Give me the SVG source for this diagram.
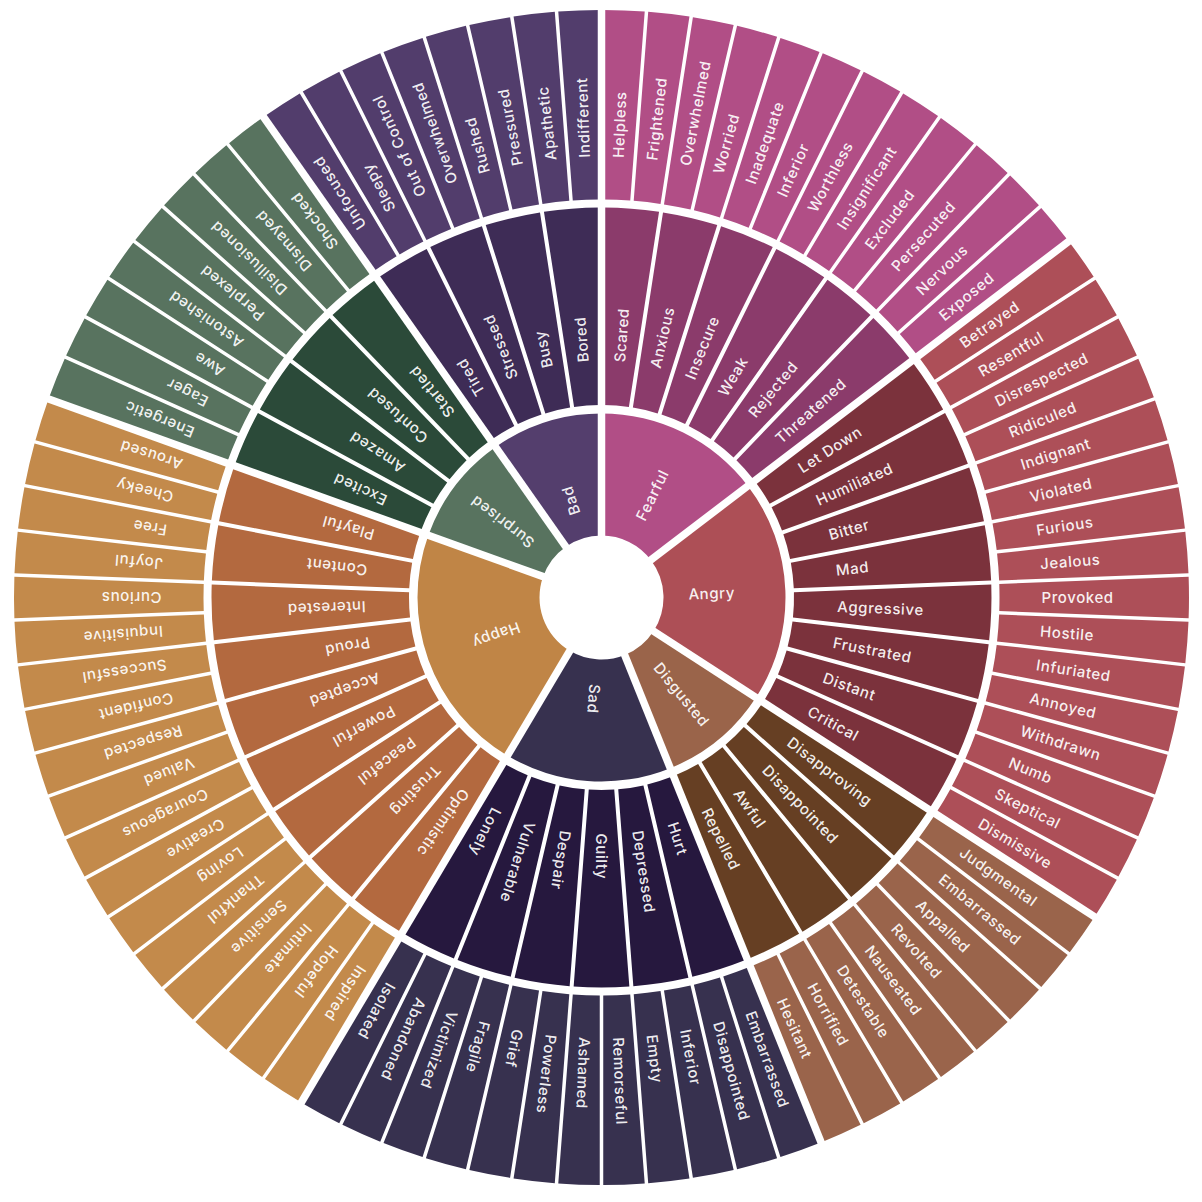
<svg xmlns="http://www.w3.org/2000/svg" xmlns:xlink="http://www.w3.org/1999/xlink" width="1202" height="1202" viewBox="0 0 1202 1202">
<style>
text{font-family:Inter,"Noto Sans","Liberation Sans",sans-serif;font-size:15px;font-weight:500;letter-spacing:.6px;fill:#fff;fill-opacity:.93}
.fi{fill:#b14e86}.fm{fill:#8b3b6b}.fo{fill:#b14e86}
.ai{fill:#ad4f56}.am{fill:#7b323c}.ao{fill:#ad4f58}
.di{fill:#9a644a}.dm{fill:#663f23}.do{fill:#9a644b}
.si{fill:#37314f}.sm{fill:#26183e}.so{fill:#37314f}
.hi{fill:#c08546}.hm{fill:#b3693f}.ho{fill:#c38a4b}
.ui{fill:#58735f}.um{fill:#2b4a39}.uo{fill:#58735f}
.bi{fill:#543e6d}.bm{fill:#3e2c56}.bo{fill:#523d6c}
#separators use{stroke:#fff;stroke-width:7.5}
</style>
<defs>
<path id="leaf" d="M397.77,-13.5L587.13,-20.75A587.5,587.5 0 0 1 587.13,20.75L397.77,13.5A398,398 0 0 0 397.77,-13.5Z"/>
<path id="mid" d="M192.08,-12.74L389,-27.86A390,390 0 0 1 389,27.86L192.08,12.74A192.5,192.5 0 0 0 192.08,-12.74Z"/>
<path id="in12" d="M55.562,-27.511L164.894,-81.644A184,184 0 0 1 164.894,81.644L55.562,27.511A62,62 0 0 0 55.562,-27.511Z"/>
<path id="in16" d="M50.712,-35.67L150.499,-105.859A184,184 0 0 1 150.499,105.859L50.712,35.67A62,62 0 0 0 50.712,-35.67Z"/>
<path id="in8" d="M59.111,-18.707L175.425,-55.517A184,184 0 0 1 175.425,55.517L59.111,18.707A62,62 0 0 0 59.111,-18.707Z"/>
<path id="in18" d="M47.832,-39.447L141.954,-117.069A184,184 0 0 1 141.954,117.069L47.832,39.447A62,62 0 0 0 47.832,-39.447Z"/>
<line id="gsep" x1="50" y1="0" x2="600" y2="0"/>
</defs>
<rect width="1202" height="1202" fill="#fff"/>
<g transform="translate(601.5 597.5)">
<g id="core">
<g id="fearful" transform="rotate(-63.6585)"><use href="#in12" class="fi"/><text x="87" dy=".36em">Fearful</text></g>
<g id="angry" transform="rotate(-2.1951)"><use href="#in16" class="ai"/><text x="87" dy=".36em">Angry</text></g>
<g id="disgusted" transform="rotate(50.4878)"><use href="#in8" class="di"/><text x="87" dy=".36em">Disgusted</text></g>
<g id="sad" transform="rotate(94.3902)"><use href="#in12" class="si"/><text x="87" dy=".36em">Sad</text></g>
<g id="happy" transform="rotate(160.2439)"><use href="#in18" class="hi"/><text x="87" dy=".36em">Happy</text></g>
<g id="surprised" transform="rotate(217.3171)"><use href="#in8" class="ui"/><text x="87" dy=".36em">Surprised</text></g>
<g id="bad" transform="rotate(252.439)"><use href="#in8" class="bi"/><text x="87" dy=".36em">Bad</text></g>
</g>
<g id="middle">
<g id="m-scared" transform="rotate(-85.6098)"><use href="#mid" class="fm"/><text x="236" dy=".36em">Scared</text></g>
<g id="m-anxious" transform="rotate(-76.8293)"><use href="#mid" class="fm"/><text x="236" dy=".36em">Anxious</text></g>
<g id="m-insecure" transform="rotate(-68.0488)"><use href="#mid" class="fm"/><text x="236" dy=".36em">Insecure</text></g>
<g id="m-weak" transform="rotate(-59.2683)"><use href="#mid" class="fm"/><text x="236" dy=".36em">Weak</text></g>
<g id="m-rejected" transform="rotate(-50.4878)"><use href="#mid" class="fm"/><text x="236" dy=".36em">Rejected</text></g>
<g id="m-threatened" transform="rotate(-41.7073)"><use href="#mid" class="fm"/><text x="236" dy=".36em">Threatened</text></g>
<g id="m-letdown" transform="rotate(-32.9268)"><use href="#mid" class="am"/><text x="236" dy=".36em">Let Down</text></g>
<g id="m-humiliated" transform="rotate(-24.1463)"><use href="#mid" class="am"/><text x="236" dy=".36em">Humiliated</text></g>
<g id="m-bitter" transform="rotate(-15.3659)"><use href="#mid" class="am"/><text x="236" dy=".36em">Bitter</text></g>
<g id="m-mad" transform="rotate(-6.5854)"><use href="#mid" class="am"/><text x="236" dy=".36em">Mad</text></g>
<g id="m-aggressive" transform="rotate(2.1951)"><use href="#mid" class="am"/><text x="236" dy=".36em">Aggressive</text></g>
<g id="m-frustrated" transform="rotate(10.9756)"><use href="#mid" class="am"/><text x="236" dy=".36em">Frustrated</text></g>
<g id="m-distant" transform="rotate(19.7561)"><use href="#mid" class="am"/><text x="236" dy=".36em">Distant</text></g>
<g id="m-critical" transform="rotate(28.5366)"><use href="#mid" class="am"/><text x="236" dy=".36em">Critical</text></g>
<g id="m-disapproving" transform="rotate(37.3171)"><use href="#mid" class="dm"/><text x="236" dy=".36em">Disapproving</text></g>
<g id="m-disappointed" transform="rotate(46.0976)"><use href="#mid" class="dm"/><text x="236" dy=".36em">Disappointed</text></g>
<g id="m-awful" transform="rotate(54.878)"><use href="#mid" class="dm"/><text x="236" dy=".36em">Awful</text></g>
<g id="m-repelled" transform="rotate(63.6585)"><use href="#mid" class="dm"/><text x="236" dy=".36em">Repelled</text></g>
<g id="m-hurt" transform="rotate(72.439)"><use href="#mid" class="sm"/><text x="236" dy=".36em">Hurt</text></g>
<g id="m-depressed" transform="rotate(81.2195)"><use href="#mid" class="sm"/><text x="236" dy=".36em">Depressed</text></g>
<g id="m-guilty" transform="rotate(90)"><use href="#mid" class="sm"/><text x="236" dy=".36em">Guilty</text></g>
<g id="m-despair" transform="rotate(98.7805)"><use href="#mid" class="sm"/><text x="236" dy=".36em">Despair</text></g>
<g id="m-vulnerable" transform="rotate(107.561)"><use href="#mid" class="sm"/><text x="236" dy=".36em">Vulnerable</text></g>
<g id="m-lonely" transform="rotate(116.3415)"><use href="#mid" class="sm"/><text x="236" dy=".36em">Lonely</text></g>
<g id="m-optimistic" transform="rotate(125.122)"><use href="#mid" class="hm"/><text x="236" dy=".36em">Optimistic</text></g>
<g id="m-trusting" transform="rotate(133.9024)"><use href="#mid" class="hm"/><text x="236" dy=".36em">Trusting</text></g>
<g id="m-peaceful" transform="rotate(142.6829)"><use href="#mid" class="hm"/><text x="236" dy=".36em">Peaceful</text></g>
<g id="m-powerful" transform="rotate(151.4634)"><use href="#mid" class="hm"/><text x="236" dy=".36em">Powerful</text></g>
<g id="m-accepted" transform="rotate(160.2439)"><use href="#mid" class="hm"/><text x="236" dy=".36em">Accepted</text></g>
<g id="m-proud" transform="rotate(169.0244)"><use href="#mid" class="hm"/><text x="236" dy=".36em">Proud</text></g>
<g id="m-interested" transform="rotate(177.8049)"><use href="#mid" class="hm"/><text x="236" dy=".36em">Interested</text></g>
<g id="m-content" transform="rotate(186.5854)"><use href="#mid" class="hm"/><text x="236" dy=".36em">Content</text></g>
<g id="m-playful" transform="rotate(195.3659)"><use href="#mid" class="hm"/><text x="236" dy=".36em">Playful</text></g>
<g id="m-excited" transform="rotate(204.1463)"><use href="#mid" class="um"/><text x="236" dy=".36em">Excited</text></g>
<g id="m-amazed" transform="rotate(212.9268)"><use href="#mid" class="um"/><text x="236" dy=".36em">Amazed</text></g>
<g id="m-confused" transform="rotate(221.7073)"><use href="#mid" class="um"/><text x="236" dy=".36em">Confused</text></g>
<g id="m-startled" transform="rotate(230.4878)"><use href="#mid" class="um"/><text x="236" dy=".36em">Startled</text></g>
<g id="m-tired" transform="rotate(239.2683)"><use href="#mid" class="bm"/><text x="236" dy=".36em">Tired</text></g>
<g id="m-stressed" transform="rotate(248.0488)"><use href="#mid" class="bm"/><text x="236" dy=".36em">Stressed</text></g>
<g id="m-busy" transform="rotate(256.8293)"><use href="#mid" class="bm"/><text x="236" dy=".36em">Busy</text></g>
<g id="m-bored" transform="rotate(265.6098)"><use href="#mid" class="bm"/><text x="236" dy=".36em">Bored</text></g>
</g>
<g id="outer">
<g id="o-helpless" transform="rotate(-87.8049)"><use href="#leaf" class="fo"/><text x="440" dy=".36em">Helpless</text></g>
<g id="o-frightened" transform="rotate(-83.4146)"><use href="#leaf" class="fo"/><text x="440" dy=".36em">Frightened</text></g>
<g id="o-overwhelmed-f" transform="rotate(-79.0244)"><use href="#leaf" class="fo"/><text x="440" dy=".36em">Overwhelmed</text></g>
<g id="o-worried" transform="rotate(-74.6341)"><use href="#leaf" class="fo"/><text x="440" dy=".36em">Worried</text></g>
<g id="o-inadequate" transform="rotate(-70.2439)"><use href="#leaf" class="fo"/><text x="440" dy=".36em">Inadequate</text></g>
<g id="o-inferior-f" transform="rotate(-65.8537)"><use href="#leaf" class="fo"/><text x="440" dy=".36em">Inferior</text></g>
<g id="o-worthless" transform="rotate(-61.4634)"><use href="#leaf" class="fo"/><text x="440" dy=".36em">Worthless</text></g>
<g id="o-insignificant" transform="rotate(-57.0732)"><use href="#leaf" class="fo"/><text x="440" dy=".36em">Insignificant</text></g>
<g id="o-excluded" transform="rotate(-52.6829)"><use href="#leaf" class="fo"/><text x="440" dy=".36em">Excluded</text></g>
<g id="o-persecuted" transform="rotate(-48.2927)"><use href="#leaf" class="fo"/><text x="440" dy=".36em">Persecuted</text></g>
<g id="o-nervous" transform="rotate(-43.9024)"><use href="#leaf" class="fo"/><text x="440" dy=".36em">Nervous</text></g>
<g id="o-exposed" transform="rotate(-39.5122)"><use href="#leaf" class="fo"/><text x="440" dy=".36em">Exposed</text></g>
<g id="o-betrayed" transform="rotate(-35.122)"><use href="#leaf" class="ao"/><text x="440" dy=".36em">Betrayed</text></g>
<g id="o-resentful" transform="rotate(-30.7317)"><use href="#leaf" class="ao"/><text x="440" dy=".36em">Resentful</text></g>
<g id="o-disrespected" transform="rotate(-26.3415)"><use href="#leaf" class="ao"/><text x="440" dy=".36em">Disrespected</text></g>
<g id="o-ridiculed" transform="rotate(-21.9512)"><use href="#leaf" class="ao"/><text x="440" dy=".36em">Ridiculed</text></g>
<g id="o-indignant" transform="rotate(-17.561)"><use href="#leaf" class="ao"/><text x="440" dy=".36em">Indignant</text></g>
<g id="o-violated" transform="rotate(-13.1707)"><use href="#leaf" class="ao"/><text x="440" dy=".36em">Violated</text></g>
<g id="o-furious" transform="rotate(-8.7805)"><use href="#leaf" class="ao"/><text x="440" dy=".36em">Furious</text></g>
<g id="o-jealous" transform="rotate(-4.3902)"><use href="#leaf" class="ao"/><text x="440" dy=".36em">Jealous</text></g>
<g id="o-provoked" transform="rotate(0)"><use href="#leaf" class="ao"/><text x="440" dy=".36em">Provoked</text></g>
<g id="o-hostile" transform="rotate(4.3902)"><use href="#leaf" class="ao"/><text x="440" dy=".36em">Hostile</text></g>
<g id="o-infuriated" transform="rotate(8.7805)"><use href="#leaf" class="ao"/><text x="440" dy=".36em">Infuriated</text></g>
<g id="o-annoyed" transform="rotate(13.1707)"><use href="#leaf" class="ao"/><text x="440" dy=".36em">Annoyed</text></g>
<g id="o-withdrawn" transform="rotate(17.561)"><use href="#leaf" class="ao"/><text x="440" dy=".36em">Withdrawn</text></g>
<g id="o-numb" transform="rotate(21.9512)"><use href="#leaf" class="ao"/><text x="440" dy=".36em">Numb</text></g>
<g id="o-skeptical" transform="rotate(26.3415)"><use href="#leaf" class="ao"/><text x="440" dy=".36em">Skeptical</text></g>
<g id="o-dismissive" transform="rotate(30.7317)"><use href="#leaf" class="ao"/><text x="440" dy=".36em">Dismissive</text></g>
<g id="o-judgmental" transform="rotate(35.122)"><use href="#leaf" class="do"/><text x="440" dy=".36em">Judgmental</text></g>
<g id="o-embarrassed-d" transform="rotate(39.5122)"><use href="#leaf" class="do"/><text x="440" dy=".36em">Embarrassed</text></g>
<g id="o-appalled" transform="rotate(43.9024)"><use href="#leaf" class="do"/><text x="440" dy=".36em">Appalled</text></g>
<g id="o-revolted" transform="rotate(48.2927)"><use href="#leaf" class="do"/><text x="440" dy=".36em">Revolted</text></g>
<g id="o-nauseated" transform="rotate(52.6829)"><use href="#leaf" class="do"/><text x="440" dy=".36em">Nauseated</text></g>
<g id="o-detestable" transform="rotate(57.0732)"><use href="#leaf" class="do"/><text x="440" dy=".36em">Detestable</text></g>
<g id="o-horrified" transform="rotate(61.4634)"><use href="#leaf" class="do"/><text x="440" dy=".36em">Horrified</text></g>
<g id="o-hesitant" transform="rotate(65.8537)"><use href="#leaf" class="do"/><text x="440" dy=".36em">Hesitant</text></g>
<g id="o-embarrassed-s" transform="rotate(70.2439)"><use href="#leaf" class="so"/><text x="440" dy=".36em">Embarrassed</text></g>
<g id="o-disappointed" transform="rotate(74.6341)"><use href="#leaf" class="so"/><text x="440" dy=".36em">Disappointed</text></g>
<g id="o-inferior-s" transform="rotate(79.0244)"><use href="#leaf" class="so"/><text x="440" dy=".36em">Inferior</text></g>
<g id="o-empty" transform="rotate(83.4146)"><use href="#leaf" class="so"/><text x="440" dy=".36em">Empty</text></g>
<g id="o-remorseful" transform="rotate(87.8049)"><use href="#leaf" class="so"/><text x="440" dy=".36em">Remorseful</text></g>
<g id="o-ashamed" transform="rotate(92.1951)"><use href="#leaf" class="so"/><text x="440" dy=".36em">Ashamed</text></g>
<g id="o-powerless" transform="rotate(96.5854)"><use href="#leaf" class="so"/><text x="440" dy=".36em">Powerless</text></g>
<g id="o-grief" transform="rotate(100.9756)"><use href="#leaf" class="so"/><text x="440" dy=".36em">Grief</text></g>
<g id="o-fragile" transform="rotate(105.3659)"><use href="#leaf" class="so"/><text x="440" dy=".36em">Fragile</text></g>
<g id="o-victimized" transform="rotate(109.7561)"><use href="#leaf" class="so"/><text x="440" dy=".36em">Victimized</text></g>
<g id="o-abandoned" transform="rotate(114.1463)"><use href="#leaf" class="so"/><text x="440" dy=".36em">Abandoned</text></g>
<g id="o-isolated" transform="rotate(118.5366)"><use href="#leaf" class="so"/><text x="440" dy=".36em">Isolated</text></g>
<g id="o-inspired" transform="rotate(122.9268)"><use href="#leaf" class="ho"/><text x="440" dy=".36em">Inspired</text></g>
<g id="o-hopeful" transform="rotate(127.3171)"><use href="#leaf" class="ho"/><text x="440" dy=".36em">Hopeful</text></g>
<g id="o-intimate" transform="rotate(131.7073)"><use href="#leaf" class="ho"/><text x="440" dy=".36em">Intimate</text></g>
<g id="o-sensitive" transform="rotate(136.0976)"><use href="#leaf" class="ho"/><text x="440" dy=".36em">Sensitive</text></g>
<g id="o-thankful" transform="rotate(140.4878)"><use href="#leaf" class="ho"/><text x="440" dy=".36em">Thankful</text></g>
<g id="o-loving" transform="rotate(144.878)"><use href="#leaf" class="ho"/><text x="440" dy=".36em">Loving</text></g>
<g id="o-creative" transform="rotate(149.2683)"><use href="#leaf" class="ho"/><text x="440" dy=".36em">Creative</text></g>
<g id="o-courageous" transform="rotate(153.6585)"><use href="#leaf" class="ho"/><text x="440" dy=".36em">Courageous</text></g>
<g id="o-valued" transform="rotate(158.0488)"><use href="#leaf" class="ho"/><text x="440" dy=".36em">Valued</text></g>
<g id="o-respected" transform="rotate(162.439)"><use href="#leaf" class="ho"/><text x="440" dy=".36em">Respected</text></g>
<g id="o-confident" transform="rotate(166.8293)"><use href="#leaf" class="ho"/><text x="440" dy=".36em">Confident</text></g>
<g id="o-successful" transform="rotate(171.2195)"><use href="#leaf" class="ho"/><text x="440" dy=".36em">Successful</text></g>
<g id="o-inquisitive" transform="rotate(175.6098)"><use href="#leaf" class="ho"/><text x="440" dy=".36em">Inquisitive</text></g>
<g id="o-curious" transform="rotate(180)"><use href="#leaf" class="ho"/><text x="440" dy=".36em">Curious</text></g>
<g id="o-joyful" transform="rotate(184.3902)"><use href="#leaf" class="ho"/><text x="440" dy=".36em">Joyful</text></g>
<g id="o-free" transform="rotate(188.7805)"><use href="#leaf" class="ho"/><text x="440" dy=".36em">Free</text></g>
<g id="o-cheeky" transform="rotate(193.1707)"><use href="#leaf" class="ho"/><text x="440" dy=".36em">Cheeky</text></g>
<g id="o-aroused" transform="rotate(197.561)"><use href="#leaf" class="ho"/><text x="440" dy=".36em">Aroused</text></g>
<g id="o-energetic" transform="rotate(201.9512)"><use href="#leaf" class="uo"/><text x="440" dy=".36em">Energetic</text></g>
<g id="o-eager" transform="rotate(206.3415)"><use href="#leaf" class="uo"/><text x="440" dy=".36em">Eager</text></g>
<g id="o-awe" transform="rotate(210.7317)"><use href="#leaf" class="uo"/><text x="440" dy=".36em">Awe</text></g>
<g id="o-astonished" transform="rotate(215.122)"><use href="#leaf" class="uo"/><text x="440" dy=".36em">Astonished</text></g>
<g id="o-perplexed" transform="rotate(219.5122)"><use href="#leaf" class="uo"/><text x="440" dy=".36em">Perplexed</text></g>
<g id="o-disillusioned" transform="rotate(223.9024)"><use href="#leaf" class="uo"/><text x="440" dy=".36em">Disillusioned</text></g>
<g id="o-dismayed" transform="rotate(228.2927)"><use href="#leaf" class="uo"/><text x="440" dy=".36em">Dismayed</text></g>
<g id="o-shocked" transform="rotate(232.6829)"><use href="#leaf" class="uo"/><text x="440" dy=".36em">Shocked</text></g>
<g id="o-unfocused" transform="rotate(237.0732)"><use href="#leaf" class="bo"/><text x="440" dy=".36em">Unfocused</text></g>
<g id="o-sleepy" transform="rotate(241.4634)"><use href="#leaf" class="bo"/><text x="440" dy=".36em">Sleepy</text></g>
<g id="o-outofcontrol" transform="rotate(245.8537)"><use href="#leaf" class="bo"/><text x="440" dy=".36em">Out of Control</text></g>
<g id="o-overwhelmed-b" transform="rotate(250.2439)"><use href="#leaf" class="bo"/><text x="440" dy=".36em">Overwhelmed</text></g>
<g id="o-rushed" transform="rotate(254.6341)"><use href="#leaf" class="bo"/><text x="440" dy=".36em">Rushed</text></g>
<g id="o-pressured" transform="rotate(259.0244)"><use href="#leaf" class="bo"/><text x="440" dy=".36em">Pressured</text></g>
<g id="o-apathetic" transform="rotate(263.4146)"><use href="#leaf" class="bo"/><text x="440" dy=".36em">Apathetic</text></g>
<g id="o-indifferent" transform="rotate(267.8049)"><use href="#leaf" class="bo"/><text x="440" dy=".36em">Indifferent</text></g>
</g>
<g id="separators">
<use href="#gsep" transform="rotate(-90)"/>
<use href="#gsep" transform="rotate(-37.31707)"/>
<use href="#gsep" transform="rotate(32.92683)"/>
<use href="#gsep" transform="rotate(68.04878)"/>
<use href="#gsep" transform="rotate(120.73171)"/>
<use href="#gsep" transform="rotate(199.7561)"/>
<use href="#gsep" transform="rotate(234.87805)"/>
</g>
</g>
</svg>
